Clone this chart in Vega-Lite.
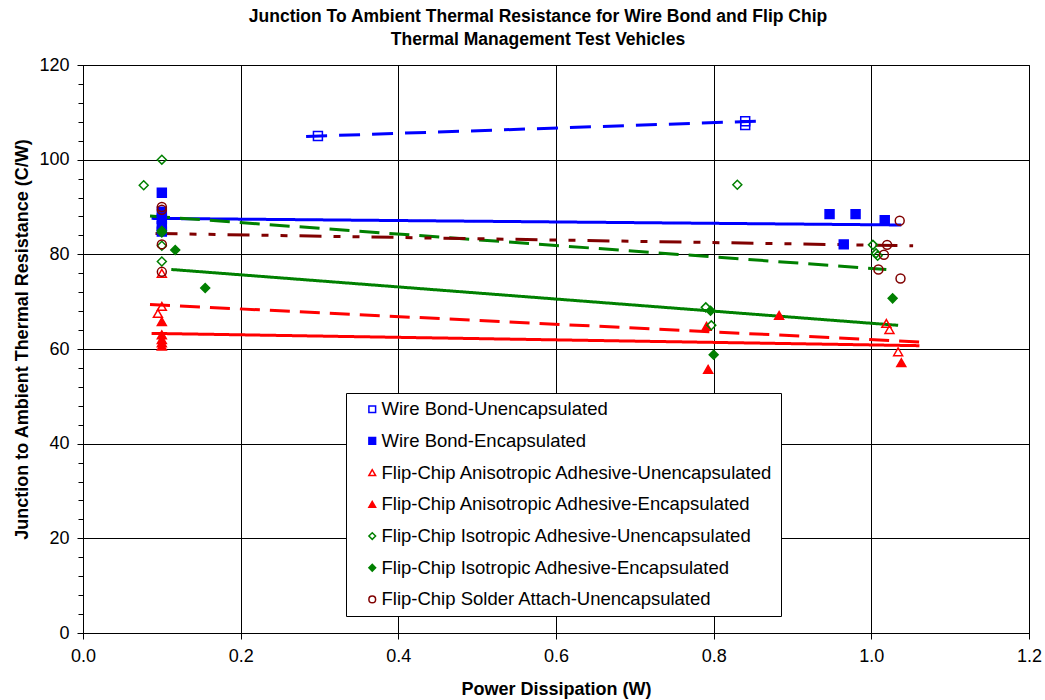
{
  "$schema": "https://vega.github.io/schema/vega-lite/v6.json",
  "autosize": "none",
  "width": 946,
  "height": 568,
  "padding": {"left": 83, "top": 65, "right": 16, "bottom": 67},
  "background": "white",
  "title": {
    "text": ["Junction To Ambient Thermal Resistance for Wire Bond and Flip Chip", "Thermal Management Test Vehicles"],
    "font": "Liberation Sans",
    "fontSize": 17.5,
    "fontWeight": "bold",
    "color": "black",
    "anchor": "middle",
    "dx": -18,
    "offset": 8,
    "lineHeight": 23
  },
  "config": {
    "view": {"stroke": "black", "strokeWidth": 1},
    "axis": {
      "domainColor": "black",
      "gridColor": "black",
      "gridWidth": 1,
      "tickColor": "black",
      "labelFont": "Liberation Sans",
      "labelFontSize": 18,
      "labelColor": "black",
      "titleFont": "Liberation Sans",
      "titleFontSize": 18,
      "titleFontWeight": "bold",
      "titleColor": "black"
    }
  },
  "datasets": {
    "points": [
      {"S": "Wire Bond-Unencapsulated", "P": 0.298, "R": 105.0},
      {"S": "Wire Bond-Unencapsulated", "P": 0.84, "R": 108.1},
      {"S": "Wire Bond-Unencapsulated", "P": 0.84, "R": 107.3},
      {"S": "Wire Bond-Encapsulated", "P": 0.1, "R": 93.0},
      {"S": "Wire Bond-Encapsulated", "P": 0.1, "R": 89.0},
      {"S": "Wire Bond-Encapsulated", "P": 0.1, "R": 87.5},
      {"S": "Wire Bond-Encapsulated", "P": 0.1, "R": 86.0},
      {"S": "Wire Bond-Encapsulated", "P": 0.1, "R": 84.8},
      {"S": "Wire Bond-Encapsulated", "P": 0.947, "R": 88.5},
      {"S": "Wire Bond-Encapsulated", "P": 0.98, "R": 88.5},
      {"S": "Wire Bond-Encapsulated", "P": 0.965, "R": 82.1},
      {"S": "Wire Bond-Encapsulated", "P": 1.017, "R": 87.2},
      {"S": "Flip-Chip Anisotropic Adhesive-Unencapsulated", "P": 0.1, "R": 76.0},
      {"S": "Flip-Chip Anisotropic Adhesive-Unencapsulated", "P": 0.1, "R": 69.0},
      {"S": "Flip-Chip Anisotropic Adhesive-Unencapsulated", "P": 0.095, "R": 67.5},
      {"S": "Flip-Chip Anisotropic Adhesive-Unencapsulated", "P": 1.019, "R": 65.4},
      {"S": "Flip-Chip Anisotropic Adhesive-Unencapsulated", "P": 1.023, "R": 64.1},
      {"S": "Flip-Chip Anisotropic Adhesive-Unencapsulated", "P": 1.034, "R": 59.4},
      {"S": "Flip-Chip Anisotropic Adhesive-Encapsulated", "P": 0.1, "R": 65.8},
      {"S": "Flip-Chip Anisotropic Adhesive-Encapsulated", "P": 0.1, "R": 63.0},
      {"S": "Flip-Chip Anisotropic Adhesive-Encapsulated", "P": 0.1, "R": 62.0},
      {"S": "Flip-Chip Anisotropic Adhesive-Encapsulated", "P": 0.1, "R": 61.3},
      {"S": "Flip-Chip Anisotropic Adhesive-Encapsulated", "P": 0.1, "R": 60.6},
      {"S": "Flip-Chip Anisotropic Adhesive-Encapsulated", "P": 0.791, "R": 64.8},
      {"S": "Flip-Chip Anisotropic Adhesive-Encapsulated", "P": 0.793, "R": 55.7},
      {"S": "Flip-Chip Anisotropic Adhesive-Encapsulated", "P": 0.883, "R": 67.1},
      {"S": "Flip-Chip Anisotropic Adhesive-Encapsulated", "P": 1.038, "R": 57.1},
      {"S": "Flip-Chip Isotropic Adhesive-Unencapsulated", "P": 0.077, "R": 94.6},
      {"S": "Flip-Chip Isotropic Adhesive-Unencapsulated", "P": 0.1, "R": 100.0},
      {"S": "Flip-Chip Isotropic Adhesive-Unencapsulated", "P": 0.1, "R": 84.6},
      {"S": "Flip-Chip Isotropic Adhesive-Unencapsulated", "P": 0.1, "R": 81.8},
      {"S": "Flip-Chip Isotropic Adhesive-Unencapsulated", "P": 0.1, "R": 78.5},
      {"S": "Flip-Chip Isotropic Adhesive-Unencapsulated", "P": 0.79, "R": 68.8},
      {"S": "Flip-Chip Isotropic Adhesive-Unencapsulated", "P": 0.797, "R": 65.0},
      {"S": "Flip-Chip Isotropic Adhesive-Unencapsulated", "P": 0.83, "R": 94.7},
      {"S": "Flip-Chip Isotropic Adhesive-Unencapsulated", "P": 1.002, "R": 82.0},
      {"S": "Flip-Chip Isotropic Adhesive-Unencapsulated", "P": 1.006, "R": 80.2},
      {"S": "Flip-Chip Isotropic Adhesive-Unencapsulated", "P": 1.008, "R": 79.7},
      {"S": "Flip-Chip Isotropic Adhesive-Encapsulated", "P": 0.1, "R": 85.0},
      {"S": "Flip-Chip Isotropic Adhesive-Encapsulated", "P": 0.117, "R": 80.9},
      {"S": "Flip-Chip Isotropic Adhesive-Encapsulated", "P": 0.155, "R": 72.9},
      {"S": "Flip-Chip Isotropic Adhesive-Encapsulated", "P": 0.796, "R": 68.1},
      {"S": "Flip-Chip Isotropic Adhesive-Encapsulated", "P": 0.8, "R": 58.8},
      {"S": "Flip-Chip Isotropic Adhesive-Encapsulated", "P": 1.027, "R": 70.7},
      {"S": "Flip-Chip Solder Attach-Unencapsulated", "P": 0.1, "R": 90.0},
      {"S": "Flip-Chip Solder Attach-Unencapsulated", "P": 0.1, "R": 89.4},
      {"S": "Flip-Chip Solder Attach-Unencapsulated", "P": 0.1, "R": 82.1},
      {"S": "Flip-Chip Solder Attach-Unencapsulated", "P": 0.1, "R": 76.3},
      {"S": "Flip-Chip Solder Attach-Unencapsulated", "P": 1.036, "R": 87.1},
      {"S": "Flip-Chip Solder Attach-Unencapsulated", "P": 1.02, "R": 82.0},
      {"S": "Flip-Chip Solder Attach-Unencapsulated", "P": 1.016, "R": 79.9},
      {"S": "Flip-Chip Solder Attach-Unencapsulated", "P": 1.009, "R": 76.8},
      {"S": "Flip-Chip Solder Attach-Unencapsulated", "P": 1.037, "R": 74.9}
    ],
    "trend": [
      {"T": "WB-U trend", "P": 0.283, "R": 104.9},
      {"T": "WB-U trend", "P": 0.868, "R": 108.2},
      {"T": "WB-E trend", "P": 0.087, "R": 87.6},
      {"T": "WB-E trend", "P": 1.038, "R": 86.2},
      {"T": "FCA-U trend", "P": 0.085, "R": 69.4},
      {"T": "FCA-U trend", "P": 1.061, "R": 61.5},
      {"T": "FCA-E trend", "P": 0.087, "R": 63.3},
      {"T": "FCA-E trend", "P": 1.061, "R": 60.7},
      {"T": "FCI-U trend", "P": 0.085, "R": 88.1},
      {"T": "FCI-U trend", "P": 1.019, "R": 76.8},
      {"T": "FCI-E trend", "P": 0.112, "R": 76.8},
      {"T": "FCI-E trend", "P": 1.034, "R": 65.0},
      {"T": "FCS-U trend", "P": 0.092, "R": 84.4},
      {"T": "FCS-U trend", "P": 1.053, "R": 81.8}
    ]
  },
  "encoding": {
    "x": {
      "field": "P", "type": "quantitative",
      "scale": {"domain": [0, 1.2], "nice": false, "zero": false},
      "axis": {
        "title": "Power Dissipation (W)",
        "values": [0, 0.2, 0.4, 0.6, 0.8, 1.0, 1.2],
        "format": ".1f",
        "grid": true,
        "tickSize": 6,
        "labelPadding": 8,
        "titlePadding": 15,
        "labelFlush": false,
        "labelOverlap": false
      }
    },
    "y": {
      "field": "R", "type": "quantitative",
      "scale": {"domain": [0, 120], "nice": false},
      "axis": {
        "title": "Junction to Ambient Thermal Resistance (C/W)",
        "values": [0, 4, 8, 12, 16, 20, 24, 28, 32, 36, 40, 44, 48, 52, 56, 60, 64, 68, 72, 76, 80, 84, 88, 92, 96, 100, 104, 108, 112, 116, 120],
        "labelExpr": "datum.value % 20 === 0 ? datum.label : ''",
        "grid": true,
        "gridOpacity": {"condition": {"test": "datum.value % 20 === 0", "value": 1}, "value": 0},
        "tickSize": {"condition": {"test": "datum.value % 20 === 0", "value": 6}, "value": 5},
        "labelPadding": 8,
        "titlePadding": 7,
        "titleY": 274,
        "labelOverlap": false,
        "labelFlush": false
      }
    }
  },
  "layer": [
    {
      "data": {"name": "trend"},
      "mark": {"type": "line", "strokeWidth": 3},
      "encoding": {
        "color": {
          "field": "T", "type": "nominal", "legend": null,
          "scale": {
            "domain": ["WB-U trend", "WB-E trend", "FCA-U trend", "FCA-E trend", "FCI-U trend", "FCI-E trend", "FCS-U trend"],
            "range": ["#0000FF", "#0000FF", "#FF0000", "#FF0000", "#008000", "#008000", "#800000"]
          }
        },
        "strokeDash": {
          "field": "T", "type": "nominal", "legend": null,
          "scale": {
            "domain": ["WB-U trend", "WB-E trend", "FCA-U trend", "FCA-E trend", "FCI-U trend", "FCI-E trend", "FCS-U trend"],
            "range": [[21, 12], [1, 0], [20, 10], [1, 0], [20, 10], [1, 0], [22, 12, 7, 12, 7, 12]]
          }
        }
      }
    },
    {
      "data": {"name": "points"},
      "mark": {"type": "point", "size": 80, "strokeWidth": 1.5, "opacity": 1},
      "encoding": {
        "shape": {
          "field": "S", "type": "nominal",
          "scale": {
            "domain": ["Wire Bond-Unencapsulated", "Wire Bond-Encapsulated", "Flip-Chip Anisotropic Adhesive-Unencapsulated", "Flip-Chip Anisotropic Adhesive-Encapsulated", "Flip-Chip Isotropic Adhesive-Unencapsulated", "Flip-Chip Isotropic Adhesive-Encapsulated", "Flip-Chip Solder Attach-Unencapsulated"],
            "range": ["square", "square", "triangle-up", "triangle-up", "diamond", "diamond", "circle"]
          },
          "legend": {
            "orient": "none",
            "legendX": 263,
            "legendY": 328,
            "title": null,
            "padding": 7,
            "symbolOffset": 10,
            "labelOffset": 0,
            "rowPadding": 12.7,
            "labelFont": "Liberation Sans",
            "labelFontSize": 18.5,
            "labelColor": "black",
            "labelLimit": 0,
            "strokeColor": "black",
            "fillColor": "white",
            "symbolSize": 45,
            "symbolStrokeWidth": 1.5,
            "cornerRadius": 0
          }
        },
        "stroke": {
          "field": "S", "type": "nominal",
          "scale": {
            "domain": ["Wire Bond-Unencapsulated", "Wire Bond-Encapsulated", "Flip-Chip Anisotropic Adhesive-Unencapsulated", "Flip-Chip Anisotropic Adhesive-Encapsulated", "Flip-Chip Isotropic Adhesive-Unencapsulated", "Flip-Chip Isotropic Adhesive-Encapsulated", "Flip-Chip Solder Attach-Unencapsulated"],
            "range": ["#0000FF", "#0000FF", "#FF0000", "#FF0000", "#008000", "#008000", "#800000"]
          }
        },
        "fill": {
          "field": "S", "type": "nominal",
          "scale": {
            "domain": ["Wire Bond-Unencapsulated", "Wire Bond-Encapsulated", "Flip-Chip Anisotropic Adhesive-Unencapsulated", "Flip-Chip Anisotropic Adhesive-Encapsulated", "Flip-Chip Isotropic Adhesive-Unencapsulated", "Flip-Chip Isotropic Adhesive-Encapsulated", "Flip-Chip Solder Attach-Unencapsulated"],
            "range": ["transparent", "#0000FF", "transparent", "#FF0000", "transparent", "#008000", "transparent"]
          }
        }
      }
    }
  ]
}
